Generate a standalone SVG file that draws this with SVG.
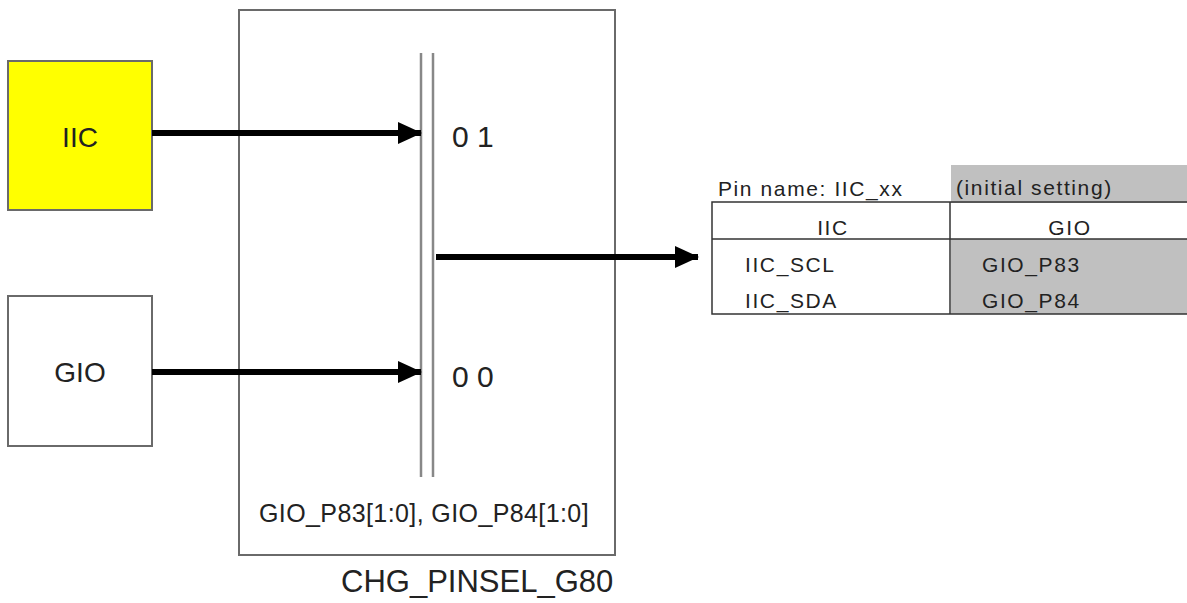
<svg xmlns="http://www.w3.org/2000/svg" width="1187" height="603" viewBox="0 0 1187 603">
<style>
text{font-family:"Liberation Sans",Arial,sans-serif;fill:#222}
.box{stroke:#6a6a6a;stroke-width:2}
.grid{stroke:#333;stroke-width:1.5;fill:none}
.conn{stroke:#000;stroke-width:6;fill:none}
.bar{stroke:#888;stroke-width:2.5}
.tb{font-size:21px;letter-spacing:1.6px}
</style>
<defs>
<marker id="ah" markerWidth="24" markerHeight="24" refX="23" refY="12" orient="auto" markerUnits="userSpaceOnUse">
<path d="M0,1 L24,12 L0,23 Z" fill="#000"/>
</marker>
</defs>
<g id="iic">
<rect class="box" x="8" y="61" width="144" height="149" fill="#ffff00"/>
<text x="80" y="147" font-size="28" text-anchor="middle">IIC</text>
</g>
<g id="gio">
<rect class="box" x="8" y="296" width="144" height="150" fill="#fff"/>
<text x="80" y="382" font-size="28" text-anchor="middle">GIO</text>
</g>
<g id="chg_pinsel">
<rect class="box" x="239" y="10" width="376" height="545" fill="none"/>
<line class="bar" x1="421" y1="53" x2="421" y2="477"/>
<line class="bar" x1="433" y1="53" x2="433" y2="477"/>
<text x="452" y="147" font-size="30">0 1</text>
<text x="452" y="387" font-size="30">0 0</text>
<text x="424" y="522" font-size="25" letter-spacing="0.4" text-anchor="middle">GIO_P83[1:0], GIO_P84[1:0]</text>
<text x="341" y="592" font-size="31">CHG_PINSEL_G80</text>
</g>
<g id="table">
<rect x="951" y="165" width="236" height="38" fill="#c0c0c0"/>
<rect x="951" y="239" width="236" height="75" fill="#c0c0c0"/>
<text class="tb" x="718" y="196" letter-spacing="1.2">Pin name: IIC_xx</text>
<text class="tb" x="956" y="195">(initial setting)</text>
<path class="grid" d="M1187,202 H712 V314 H1187 M712,239 H1187 M950,202 V314"/>
<text class="tb" x="833" y="235" text-anchor="middle">IIC</text>
<text class="tb" x="1070" y="235" text-anchor="middle">GIO</text>
<text class="tb" x="745" y="272">IIC_SCL</text>
<text class="tb" x="745" y="308">IIC_SDA</text>
<text class="tb" x="982" y="272">GIO_P83</text>
<text class="tb" x="982" y="308">GIO_P84</text>
</g>
<g id="connectors">
<line class="conn" x1="152" y1="133" x2="421" y2="133" marker-end="url(#ah)"/>
<line class="conn" x1="152" y1="372" x2="421" y2="372" marker-end="url(#ah)"/>
<line class="conn" x1="436" y1="257" x2="698" y2="257" marker-end="url(#ah)"/>
</g>
</svg>
